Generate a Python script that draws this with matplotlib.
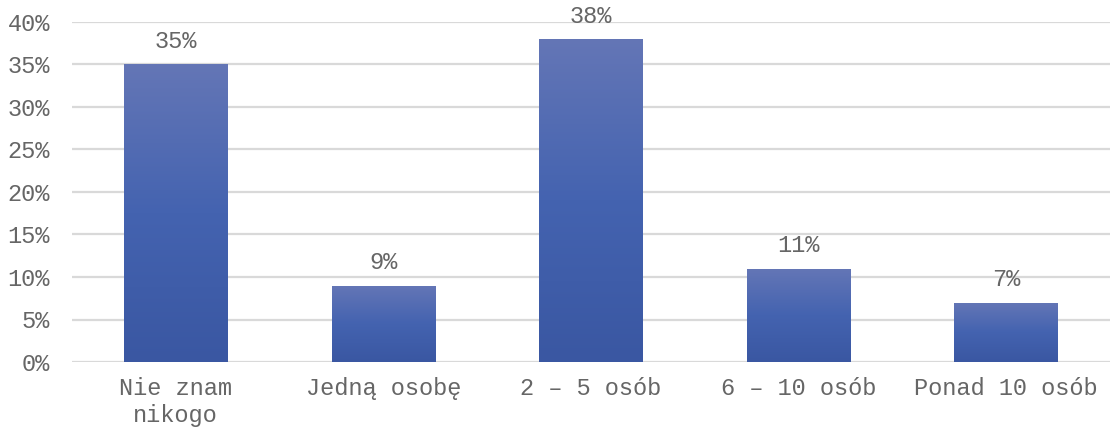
import numpy as np
import matplotlib
matplotlib.use('Agg')
import matplotlib.pyplot as plt
from matplotlib.colors import LinearSegmentedColormap
from matplotlib.ticker import FuncFormatter

categories = ['Nie znam\nnikogo', 'Jedną osobę', '2 – 5 osób', '6 – 10 osób', 'Ponad 10 osób']
values = [35, 9, 38, 11, 7]
y_ticks = [0, 5, 10, 15, 20, 25, 30, 35, 40]

plt.rcParams['font.family'] = ['Liberation Mono', 'DejaVu Sans Mono']
text_color = '#666666'

fig = plt.figure(figsize=(11.1, 4.32), dpi=100)
ax = fig.add_axes([72 / 1110, 70 / 432, 1 - 72 / 1110, 340 / 432])

grad = LinearSegmentedColormap.from_list('bar', ['#3a57a2', '#4463b0', '#6476b6'])
gradient = np.linspace(0, 1, 256).reshape(-1, 1)

x = np.arange(len(categories))
bars = ax.bar(x, values, width=0.5, color='none', zorder=3)
for b in bars:
    x0, y0 = b.get_x(), b.get_y()
    w, h = b.get_width(), b.get_height()
    im = ax.imshow(gradient, cmap=grad, origin='lower', aspect='auto',
                   extent=[x0, x0 + w, y0, y0 + h], zorder=3)
    im.set_clip_path(b)

for xi, v in zip(x, values):
    ax.annotate(f'{v}%', (xi, v), xytext=(0, 8), textcoords='offset points',
                ha='center', va='bottom', fontsize=17, color=text_color)

ax.set_xlim(-0.5, len(categories) - 0.5)
ax.set_ylim(0, 40)
ax.set_yticks(y_ticks)
ax.yaxis.set_major_formatter(FuncFormatter(lambda v, p: f'{v:.0f}%'))
ax.set_xticks(x)
ax.set_xticklabels(categories)
ax.tick_params(axis='y', length=0, pad=16, labelsize=17, colors=text_color)
ax.tick_params(axis='x', length=0, pad=11, labelsize=17, colors=text_color)
ax.grid(axis='y', color='#d9d9d9', linewidth=1.6, zorder=0)
ax.set_axisbelow(True)
for s in ax.spines.values():
    s.set_visible(False)

fig.savefig('out.png', dpi=100)
